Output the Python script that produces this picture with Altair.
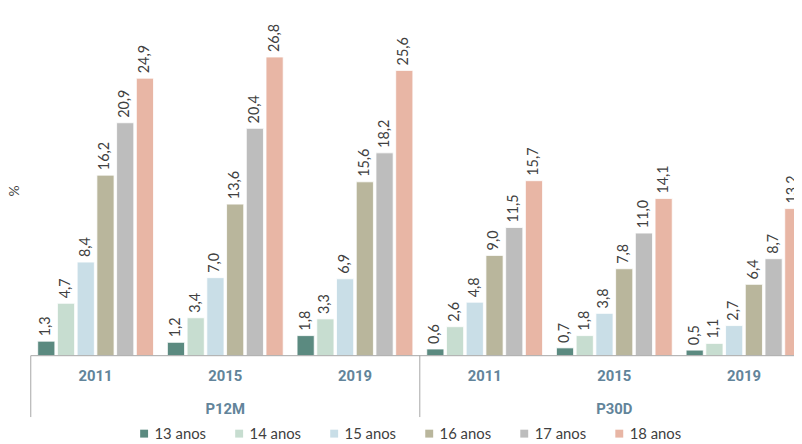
import altair as alt
import pandas as pd

ages = ["13 anos", "14 anos", "15 anos", "16 anos", "17 anos", "18 anos"]
periods = ["P12M", "P30D"]
years = ["2011", "2015", "2019"]

p12m_2011 = [1.3, 4.7, 8.4, 16.2, 20.9, 24.9]
p12m_2015 = [1.2, 3.4, 7.0, 13.6, 20.4, 26.8]
p12m_2019 = [1.8, 3.3, 6.9, 15.6, 18.2, 25.6]
p30d_2011 = [0.6, 2.6, 4.8, 9.0, 11.5, 15.7]
p30d_2015 = [0.7, 1.8, 3.8, 7.8, 11.0, 14.1]
p30d_2019 = [0.5, 1.1, 2.7, 6.4, 8.7, 13.2]

colors = ["#5b8a80", "#c7ddd0", "#c9dee7", "#b9b69c", "#bdbdbd", "#e8b6a5"]

series = {
    ("P12M", "2011"): p12m_2011,
    ("P12M", "2015"): p12m_2015,
    ("P12M", "2019"): p12m_2019,
    ("P30D", "2011"): p30d_2011,
    ("P30D", "2015"): p30d_2015,
    ("P30D", "2019"): p30d_2019,
}

rows = []
for (p, yr), vals in series.items():
    for a, v in zip(ages, vals):
        rows.append({"grp": f"{p}|{yr}", "period": p, "year": yr, "age": a,
                     "value": v, "label": f"{v:.1f}".replace(".", ",")})
df = pd.DataFrame(rows)
grp_order = [f"{p}|{y}" for p in periods for y in years]

year_df = pd.DataFrame({"grp": grp_order, "year": [g.split("|")[1] for g in grp_order]})
period_df = pd.DataFrame({"grp": [f"{p}|2015" for p in periods], "period": periods})
sep_df = pd.DataFrame({"pos": [0, 3, 6]})

xscale = alt.Scale(domain=grp_order, range=[0, 786], paddingInner=0.107, paddingOuter=0.0535)
xenc = alt.X("grp:N", sort=grp_order, scale=xscale, axis=None)
yscale = alt.Scale(domain=[0, 31])
xoff = alt.XOffset("age:N", sort=ages, scale=alt.Scale(paddingInner=0.13, paddingOuter=0))

bars = alt.Chart(df).mark_bar(stroke="white", strokeWidth=0.8).encode(
    x=xenc,
    xOffset=xoff,
    y=alt.Y("value:Q", scale=yscale,
            axis=alt.Axis(title="%", labels=False, ticks=False, domain=False, grid=False,
                          titleX=-16, titleY=182, titleBaseline="middle", titleAlign="center",
                          titleFont="Lato", titleFontSize=14,
                          titleFontWeight="normal", titleColor="#404040")),
    color=alt.Color("age:N", sort=ages, scale=alt.Scale(domain=ages, range=colors),
                    legend=alt.Legend(title=None, orient="none", direction="horizontal",
                                      columns=6, legendX=107, legendY=420,
                                      symbolType="square", symbolSize=64, symbolStrokeWidth=0,
                                      labelFont="Lato", labelFontSize=15, labelColor="#404040",
                                      labelOffset=3, columnPadding=25)),
)

labels = alt.Chart(df).mark_text(angle=270, align="left", baseline="middle", dx=5,
                                 font="Lato", fontSize=14.5, color="#404040").encode(
    x=xenc,
    xOffset=xoff,
    y=alt.Y("value:Q", scale=yscale),
    text="label:N",
)

baseline = alt.Chart(pd.DataFrame({"v": [0]})).mark_rule(color="#a6a6a6", strokeWidth=1).encode(
    y=alt.Y("v:Q", scale=yscale), x=alt.value(0), x2=alt.value(771))

year_text = alt.Chart(year_df).mark_text(font="Liberation Sans Narrow, Roboto", fontSize=15,
                                         fontWeight="bold", color="#62849a").encode(
    x=xenc, y=alt.value(370), text="year:N")

period_text = alt.Chart(period_df).mark_text(font="Liberation Sans Narrow, Roboto", fontSize=15,
                                             fontWeight="bold", color="#62849a").encode(
    x=xenc, y=alt.value(403), text="period:N")

seps = alt.Chart(sep_df).mark_rule(color="#a6a6a6", strokeWidth=1).encode(
    x=alt.X("pos:Q", scale=alt.Scale(domain=[0, 6], range=[0, 786]), axis=None),
    y=alt.value(349), y2=alt.value(411))

chart = alt.layer(bars, labels, baseline, year_text, period_text, seps).resolve_scale(
    x="independent"
).properties(
    width=771, height=349,
    autosize=alt.AutoSizeParams(type="none"),
    padding={"left": 23, "top": 0, "right": 0, "bottom": 87},
    background="white",
).configure_view(stroke=None)

chart.save("out.html", embed_options={"renderer": "svg", "actions": False})
